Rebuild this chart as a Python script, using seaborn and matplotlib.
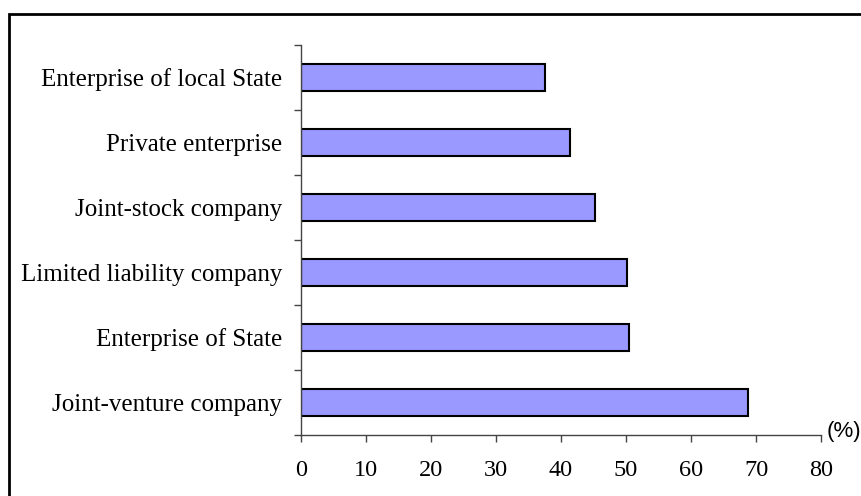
import matplotlib
matplotlib.use("Agg")
import matplotlib.pyplot as plt
import seaborn as sns
import pandas as pd
from matplotlib.patches import Rectangle

# Données (%)
categories = [
    "Enterprise of local State",
    "Private enterprise",
    "Joint-stock company",
    "Limited liability company",
    "Enterprise of State",
    "Joint-venture company",
]
values = [37.5, 41.4, 45.2, 50.1, 50.4, 68.8]
x_ticks = [0, 10, 20, 30, 40, 50, 60, 70, 80]

df = pd.DataFrame({"type": categories, "pct": values})

sns.set_theme(style="white")
plt.rcParams["font.family"] = ["Liberation Serif", "DejaVu Serif"]

fig = plt.figure(figsize=(8.61, 4.96), dpi=100)
ax = fig.add_axes([301 / 861, 1 - 435 / 496, 520 / 861, 390 / 496])

sns.barplot(data=df, y="type", x="pct", order=categories, color="#9999FF",
            saturation=1, edgecolor="black", linewidth=1.5, width=0.43, ax=ax)

ax.set_xlim(0, 80)
ax.set_ylim(len(categories) - 0.5, -0.5)
ax.set_xticks(x_ticks)
ax.set_xticklabels([str(t) for t in x_ticks], fontsize=17.5)
ax.set_xlabel("")
ax.set_ylabel("")

# graduations de l'axe Y entre les catégories
ax.set_yticks([i - 0.5 for i in range(len(categories) + 1)], minor=False)
ax.set_yticklabels([])
ax.set_yticks(range(len(categories)), minor=True)
ax.set_yticklabels(categories, minor=True, fontsize=18)
ax.tick_params(axis="y", which="minor", length=0, pad=13.5, labelcolor="black")
ax.tick_params(axis="y", which="major", length=5, width=1, color="#444444", direction="out", left=True)
ax.tick_params(axis="x", length=5, width=1, color="#444444", direction="out", bottom=True,
               pad=13, labelcolor="black")

for side in ["top", "right"]:
    ax.spines[side].set_visible(False)
for side in ["left", "bottom"]:
    ax.spines[side].set_color("#444444")
    ax.spines[side].set_linewidth(1)

ax.text(1.011, 0.01, "(%)", transform=ax.transAxes, fontsize=16, color="black",
        family=["Liberation Sans", "DejaVu Sans"], ha="left", va="center")

# cadre autour de la figure
fig.patches.append(Rectangle((9 / 861, -0.1), 1.2, 1 - 14 / 496 + 0.1,
                             transform=fig.transFigure, fill=False,
                             edgecolor="black", linewidth=2))

fig.savefig("out.png", dpi=100)
